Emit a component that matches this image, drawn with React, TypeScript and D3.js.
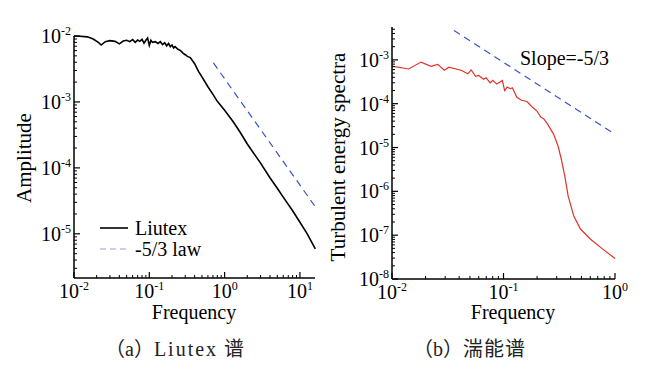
import * as d3 from "d3"
import React from "react"

// (a) Liutex spectrum
const liutexFreq = [
  0.01, 0.012, 0.015, 0.018, 0.021, 0.023, 0.026, 0.03, 0.035, 0.04, 0.045, 0.05, 0.055, 0.06,
  0.065, 0.07, 0.075, 0.08, 0.085, 0.09, 0.095, 0.1, 0.105, 0.11, 0.12, 0.13, 0.14, 0.15, 0.16,
  0.17, 0.18, 0.19, 0.2, 0.21, 0.22, 0.24, 0.26, 0.28, 0.3, 0.32, 0.35, 0.4, 0.45, 0.5, 0.6, 0.7,
  0.8, 1.0, 1.3, 1.6, 2.0, 3.0, 4.0, 5.0, 6.0, 8.0, 10, 12.5, 16,
]
const liutexAmp = [
  0.01, 0.0099, 0.0097, 0.009, 0.008, 0.0073, 0.0082, 0.0085, 0.0083, 0.0076, 0.0084, 0.0086,
  0.0082, 0.0088, 0.008, 0.0087, 0.0083, 0.0089, 0.0078, 0.0086, 0.0093, 0.0072, 0.0086, 0.008,
  0.0082, 0.0077, 0.0082, 0.0074, 0.0079, 0.0071, 0.0077, 0.0069, 0.0073, 0.0066, 0.0069, 0.0063,
  0.006, 0.0055, 0.0052, 0.0049, 0.0047, 0.0038, 0.0029, 0.0024, 0.0017, 0.0013, 0.00102,
  0.00075, 0.0005, 0.00035, 0.00023, 0.000118, 0.000071, 0.000049, 0.000036, 0.0000224,
  0.000015, 0.00001, 0.0000059,
]
const liutexLawFreq = [0.71, 16]
const liutexLawAmp = [3.9e-3, 2.57e-5]

// (b) turbulent energy spectrum
const tkeFreq = [
  0.01, 0.0141, 0.0182, 0.0224, 0.0257, 0.0295, 0.0324, 0.0417, 0.0479, 0.0513, 0.0562, 0.06,
  0.0661, 0.07, 0.0759, 0.08, 0.0871, 0.092, 0.0977, 0.1023, 0.108, 0.1148, 0.12, 0.1318, 0.145,
  0.1622, 0.18, 0.1995, 0.215, 0.23, 0.2455, 0.2818, 0.309, 0.33, 0.355, 0.38, 0.427, 0.49,
  0.603, 0.776, 1.0,
]
const tkeEnergy = [
  7.2e-4, 6.2e-4, 8.9e-4, 7.1e-4, 7.9e-4, 5.8e-4, 6.8e-4, 5.8e-4, 4.8e-4, 5.9e-4, 4.2e-4,
  4.4e-4, 3.6e-4, 3.9e-4, 3.0e-4, 3.4e-4, 2.8e-4, 3.1e-4, 3.4e-4, 2.0e-4, 2.4e-4, 2.2e-4,
  2.3e-4, 1.4e-4, 1.2e-4, 1.12e-4, 8.5e-5, 6.8e-5, 5.0e-5, 4.5e-5, 3.6e-5, 2.0e-5, 1.07e-5,
  5.4e-6, 2.2e-6, 7.8e-7, 2.75e-7, 1.38e-7, 8.1e-8, 4.8e-8, 2.95e-8,
]
const slopeFreq = [0.036, 1.0]
const slopeEnergy = [4.7e-3, 2.0e-5]

const legendLabels = ["Liutex", "-5/3 law"]
const captionTags = ["a", "b"]
const captionLatin = ["Liutex", ""]
const captionHan = ["谱", "湍能谱"]

const serif = "'Liberation Serif', 'Times New Roman', serif"
const cjk = "'Noto Sans CJK SC', sans-serif"

type AxisProps = {
  x: d3.ScaleLogarithmic<number, number>
  y: d3.ScaleLogarithmic<number, number>
}

function decadeTicks(domain: number[]) {
  const lo = Math.floor(Math.log10(domain[0]) + 1e-9)
  const hi = Math.ceil(Math.log10(domain[1]) - 1e-9)
  const major: number[] = []
  const minor: number[] = []
  for (let k = lo; k <= hi; k++) {
    const p = Math.pow(10, k)
    if (p >= domain[0] * 0.999 && p <= domain[1] * 1.001) major.push(k)
    for (let m = 2; m < 10; m++) {
      const v = m * p
      if (v >= domain[0] && v <= domain[1]) minor.push(v)
    }
  }
  return { major, minor }
}

function Pow({ k, x, y, anchor }: { k: number; x: number; y: number; anchor: string }) {
  return (
    <text x={x} y={y} textAnchor={anchor} fontFamily={serif} fontSize={20}>
      10
      <tspan fontSize={12} dy={-8}>
        {k}
      </tspan>
    </text>
  )
}

function Axes({ x, y }: AxisProps) {
  const [x0, x1] = x.range()
  const [y0, y1] = y.range()
  const xt = decadeTicks(x.domain())
  const yt = decadeTicks(y.domain())
  return (
    <g stroke="#000">
      <line x1={x0} x2={x1} y1={y0} y2={y0} strokeWidth={1.5} />
      <line x1={x0} x2={x0} y1={y0} y2={y1} strokeWidth={1.5} />
      {xt.minor.map((v, i) => (
        <line key={"xm" + i} x1={x(v)} x2={x(v)} y1={y0} y2={y0 - 3} strokeWidth={1} />
      ))}
      {xt.major.map((k) => (
        <g key={"xM" + k}>
          <line x1={x(10 ** k)} x2={x(10 ** k)} y1={y0} y2={y0 - 6} strokeWidth={1.2} />
          <g stroke="none">
            <Pow k={k} x={x(10 ** k)} y={y0 + 20} anchor="middle" />
          </g>
        </g>
      ))}
      {yt.minor.map((v, i) => (
        <line key={"ym" + i} x1={x0} x2={x0 + 3} y1={y(v)} y2={y(v)} strokeWidth={1} />
      ))}
      {yt.major.map((k) => (
        <g key={"yM" + k}>
          <line x1={x0} x2={x0 + 6} y1={y(10 ** k)} y2={y(10 ** k)} strokeWidth={1.2} />
          <g stroke="none">
            <Pow k={k} x={x0 - 3} y={y(10 ** k) + 7} anchor="end" />
          </g>
        </g>
      ))}
    </g>
  )
}

function Caption({ i, x }: { i: number; x: number }) {
  return (
    <text x={x} y={356} fontSize={20} fill="#222">
      <tspan fontFamily={cjk}>（</tspan>
      <tspan fontFamily={serif}>{captionTags[i]}</tspan>
      <tspan fontFamily={cjk}>）</tspan>
      {captionLatin[i] && (
        <tspan fontFamily={serif} letterSpacing={2}>
          {captionLatin[i]}
        </tspan>
      )}
      <tspan fontFamily={cjk} letterSpacing={1} dx={captionLatin[i] ? 6 : 0}>
        {captionHan[i]}
      </tspan>
    </text>
  )
}

export default function App() {
  // panel (a)
  const xa = d3.scaleLog().domain([0.01, 10 ** 1.2]).range([74, 315])
  const ya = d3.scaleLog().domain([10 ** -5.67, 1e-2]).range([278, 36])
  // panel (b)
  const xb = d3.scaleLog().domain([0.01, 1]).range([392, 615])
  const yb = d3.scaleLog().domain([1e-8, 10 ** -2.25]).range([279, 27])

  const lineA = d3
    .line<number>()
    .x((d, i) => xa(liutexFreq[i]))
    .y((d) => ya(d))
  const lawA = d3
    .line<number>()
    .x((d, i) => xa(liutexLawFreq[i]))
    .y((d) => ya(d))
  const lineB = d3
    .line<number>()
    .x((d, i) => xb(tkeFreq[i]))
    .y((d) => yb(d))
  const lawB = d3
    .line<number>()
    .x((d, i) => xb(slopeFreq[i]))
    .y((d) => yb(d))

  return (
    <svg width={645} height={369} style={{ position: "absolute", left: 0, top: 0, background: "#fff" }}>
      <rect width={645} height={369} fill="#fff" />

      {/* (a) */}
      <path d={lawA(liutexLawAmp)!} fill="none" stroke="#3a52c4" strokeWidth={1.2} strokeDasharray="7,5" />
      <path d={lineA(liutexAmp)!} fill="none" stroke="#000" strokeWidth={1.6} />
      <Axes x={xa} y={ya} />
      <line x1={100} x2={128} y1={228} y2={228} stroke="#000" strokeWidth={1.6} />
      <line x1={100} x2={128} y1={249} y2={249} stroke="#9b9bdc" strokeWidth={1.2} strokeDasharray="6,4" />
      <text x={135} y={235} fontFamily={serif} fontSize={20}>
        {legendLabels[0]}
      </text>
      <text x={135} y={256} fontFamily={serif} fontSize={20}>
        {legendLabels[1]}
      </text>
      <text x={194} y={319} textAnchor="middle" fontFamily={serif} fontSize={20}>
        Frequency
      </text>
      <text transform="translate(31,158) rotate(-90)" textAnchor="middle" fontFamily={serif} fontSize={21}>
        Amplitude
      </text>

      {/* (b) */}
      <path d={lawB(slopeEnergy)!} fill="none" stroke="#3a52c4" strokeWidth={1.2} strokeDasharray="7,5" />
      <path d={lineB(tkeEnergy)!} fill="none" stroke="#e0332b" strokeWidth={1.2} />
      <Axes x={xb} y={yb} />
      <text x={520} y={65} fontFamily={serif} fontSize={20}>
        Slope=-5/3
      </text>
      <text x={513} y={319} textAnchor="middle" fontFamily={serif} fontSize={20}>
        Frequency
      </text>
      <text transform="translate(345,157) rotate(-90)" textAnchor="middle" fontFamily={serif} fontSize={21}>
        Turbulent energy spectra
      </text>

      {/* captions */}
      <Caption i={0} x={105} />
      <Caption i={1} x={413} />
    </svg>
  )
}
